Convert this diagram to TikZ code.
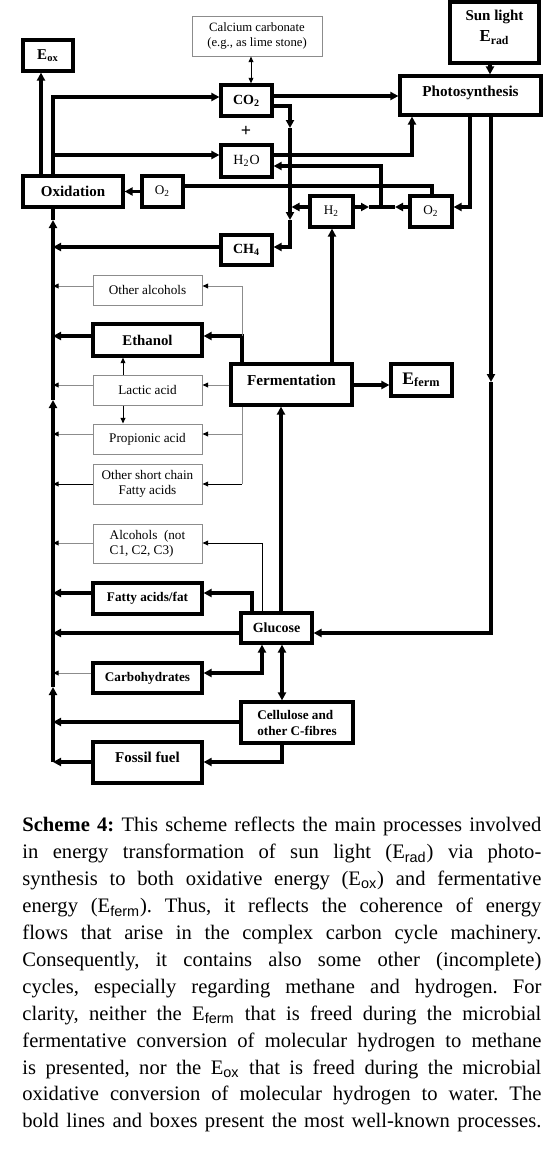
\documentclass[tikz,border=0pt]{standalone}
\usepackage{fontspec}
\setmainfont{Liberation Serif}
\newfontfamily\subsans{Liberation Sans}
\usetikzlibrary{arrows.meta}
\newcommand\myfs[2]{\fontsize{#1}{#2}\selectfont}
\tikzset{
  thickbox/.style={draw=black, line width=1.6pt, fill=white, inner sep=0pt},
  thinbox/.style={draw=black!45, line width=0.5pt, fill=white, inner sep=0pt},
  tkline/.style={line width=1.6pt},
  tk/.style={line width=1.6pt, -{Triangle[length=4pt,width=4pt]}},
  tkboth/.style={line width=1.6pt, {Triangle[length=4pt,width=4pt]}-{Triangle[length=4pt,width=4pt]}},
  tn/.style={line width=0.5pt, -{Triangle[length=2.8pt,width=2.4pt,color=black]}},
  tnboth/.style={line width=0.5pt, {Triangle[length=2.8pt,width=2.4pt]}-{Triangle[length=2.8pt,width=2.4pt]}},
  tngray/.style={tn, draw=black!45},
  lngray/.style={line width=0.5pt, draw=black!45},
  bigb/.style={font=\bfseries\myfs{7.6}{9}},
  midb/.style={font=\bfseries\myfs{6.6}{8}},
  sml/.style={font=\myfs{6.6}{7.6}},
}
\begin{document}
\begin{tikzpicture}[x=0.5pt,y=-0.5pt]
\useasboundingbox (0,0) rectangle (559,1157);

% ---- boxes ----
\node[thickbox, minimum width=25pt, minimum height=15.5pt, font=\bfseries\myfs{7.5}{9}] (eox) at (48,55.5) {E\textsubscript{ox}};
\node[thinbox, minimum width=65pt, minimum height=20pt, align=center, font=\myfs{6.35}{7.85}] (calc) at (257,36) {Calcium carbonate\\(e.g., as lime stone)};
\node[thickbox, minimum width=44.5pt, minimum height=30.5pt, align=center, font=\bfseries\myfs{7.5}{10.5}, text depth=6.5pt] (sun) at (494.5,32.5) {Sun light\\{\myfs{8.4}{10.5}E\textsubscript{rad}}};
\node[thickbox, minimum width=70.5pt, minimum height=19.5pt, bigb, text depth=4.5pt] (photo) at (470.5,95.5) {Photosynthesis};
\node[thickbox, minimum width=25.5pt, minimum height=15.5pt, font=\bfseries\myfs{7}{8}] (co2) at (246.5,100.5) {CO\textsubscript{2}};
\node[font=\bfseries\myfs{9}{10}] (plus) at (246,131) {+};
\node[thickbox, minimum width=25.5pt, minimum height=16pt, font=\myfs{7}{8}] (h2o) at (246.5,161) {H\textsubscript{2}O};
\node[thickbox, minimum width=25.5pt, minimum height=15pt, font=\bfseries\myfs{7}{8}] (ch4) at (246.5,250) {CH\textsubscript{4}};
\node[thickbox, minimum width=21.5pt, minimum height=15.5pt, font=\myfs{6.6}{8}] (h2) at (331.5,211.5) {H\textsubscript{2}};
\node[thickbox, minimum width=21pt, minimum height=15.5pt, font=\myfs{6.6}{8}] (o2r) at (431,211.5) {O\textsubscript{2}};
\node[thickbox, minimum width=20.5pt, minimum height=15.5pt, font=\myfs{6.6}{8}] (o2l) at (162.5,191.5) {O\textsubscript{2}};
\node[thickbox, minimum width=50pt, minimum height=15.5pt, font=\bfseries\myfs{7.5}{9}] (oxid) at (73,191.5) {Oxidation};
\node[thickbox, minimum width=60.5pt, minimum height=20.5pt, bigb, text depth=4.5pt] (ferm) at (291.5,384.5) {Fermentation};
\node[thickbox, minimum width=30.5pt, minimum height=16pt, font=\bfseries\myfs{8.8}{10}] (eferm) at (421.5,380) {E\textsubscript{ferm}};
\node[thinbox, minimum width=54.5pt, minimum height=15pt, sml] (otheralc) at (147.5,290) {Other alcohols};
\node[thickbox, minimum width=54.5pt, minimum height=16pt, font=\bfseries\myfs{7.4}{9}] (ethanol) at (147.5,340) {Ethanol};
\node[thinbox, minimum width=54.5pt, minimum height=15pt, sml] (lactic) at (147.5,390) {Lactic acid};
\node[thinbox, minimum width=54.5pt, minimum height=15pt, sml] (propionic) at (147.5,439) {Propionic acid};
\node[thinbox, minimum width=54.5pt, minimum height=20pt, sml, align=center] (othersc) at (147.5,484) {Other short chain\\Fatty acids};
\node[thinbox, minimum width=54.5pt, minimum height=19.5pt, sml, align=left] (alcnot) at (147.5,543.5) {Alcohols\ \ (not\\C1, C2, C3)};
\node[thickbox, minimum width=54.5pt, minimum height=15.5pt, midb] (fatty) at (147.5,598.5) {Fatty acids/fat};
\node[thickbox, minimum width=35.5pt, minimum height=15pt, font=\bfseries\myfs{7}{8}] (glucose) at (276.5,628) {Glucose};
\node[thickbox, minimum width=54.5pt, minimum height=15pt, midb] (carbo) at (147.5,678) {Carbohydrates};
\node[thickbox, minimum width=56pt, minimum height=20.5pt, midb, align=left] (cellu) at (297,722.5) {Cellulose and\\other C-fibres};
\node[thickbox, minimum width=54.5pt, minimum height=20.5pt, font=\bfseries\myfs{7.5}{9}, text depth=5.5pt] (fossil) at (147.5,762.5) {Fossil fuel};

% ---- main collecting line ----
\coordinate (busbot) at (53,762);
\coordinate (bus1) at (53,687);
\coordinate (bus2) at (53,400);
\coordinate (bus3) at (53,220);
\draw[tk] (busbot) -- (bus1);
\draw[tk] (bus1) -- (bus2);
\draw[tk] (bus2) -- (bus3);
\draw[tkline] (bus3) -- (oxid.south -| bus3);

\draw[tk] (fossil.west |- 0,762) -- (busbot |- 0,762);
\draw[tk] (cellu.west |- 0,722) -- (busbot |- 0,722);
\draw[tngray] (carbo.west |- 0,673) -- (busbot |- 0,673);
\draw[tk] (glucose.west |- 0,633) -- (busbot |- 0,633);
\draw[tk] (fatty.west |- 0,593) -- (busbot |- 0,593);
\draw[tngray] (alcnot.west |- 0,543) -- (busbot |- 0,543);
\draw[tn] (othersc.west |- 0,484) -- (busbot |- 0,484);
\draw[tngray] (propionic.west |- 0,434) -- (busbot |- 0,434);
\draw[tngray] (lactic.west |- 0,385) -- (busbot |- 0,385);
\draw[tk] (ethanol.west |- 0,336) -- (busbot |- 0,336);
\draw[tngray] (otheralc.west |- 0,286) -- (busbot |- 0,286);
\draw[tk] (ch4.west |- 0,247) -- (busbot |- 0,247);

% ---- oxidation outputs ----
\draw[tk] (oxid.north -| 41,0) -- (eox.south -| 41,0);
\draw[tk] (oxid.north -| busbot) -- (busbot |- 0,97) -- (co2.west |- 0,97);
\draw[tk] (busbot |- 0,155) -- (h2o.west |- 0,155);
\draw[tk] (o2l.west) -- (oxid.east);

% ---- CO2 / H2O / H2 / O2 ----
\draw[tnboth] (calc.south -| 251,0) -- (co2.north -| 251,0);
\draw[tk] (co2.east |- 0,96) -- (photo.west |- 0,96);
\coordinate (cva) at (290,106);
\coordinate (cvb) at (290,128);
\coordinate (cvc) at (290,220);
\coordinate (cvd) at (290,247);
\draw[tk] (co2.east |- cva) -- (cva) -- (cvb);
\draw[tk] (cvb) -- (cvc);
\draw[tk] (cvc) -- (cvd) -- (ch4.east |- cvd);
\draw[tk] (h2.west |- 0,207) -- (291.5,207);

\draw[tk] (h2o.east |- 0,155) -- (412,155) -- (photo.south -| 412,0);
\coordinate (jn) at (381,207);
\draw[tk] (h2.east |- jn) -- (369,207);
\draw[tkline] (369,207) -- (395,207);
\draw[tk] (o2r.west |- jn) -- (395,207);
\draw[tk] (jn) -- (381,166) -- (h2o.east |- 0,166);
\draw[tkline] (o2r.north -| 432,0) -- (432,186) -- (o2l.east |- 0,186);

% ---- photosynthesis ----
\draw[tk] (sun.south -| 490,0) -- (photo.north -| 490,0);
\draw[tk] (photo.south -| 470,0) -- (470,207) -- (o2r.east |- 0,207);
\coordinate (pg) at (491,382);
\draw[tk] (photo.south -| pg) -- (pg);
\draw[tk] (pg) -- (491,633) -- (glucose.east |- 0,633);

% ---- fermentation ----
\draw[tk] (glucose.north -| 281,0) -- (ferm.south -| 281,0);
\draw[tk] (ferm.east |- 0,385) -- (eferm.west |- 0,385);
\draw[tk] (ferm.north -| 332,0) -- (h2.south -| 332,0);
\coordinate (fe) at (242,336);
\draw[tk] (ferm.north -| fe) -- (fe) -- (ethanol.east |- fe);
\draw[tngray] (fe) -- (242,286) -- (otheralc.east |- 0,286);
\draw[tngray] (ferm.west |- 0,385) -- (lactic.east |- 0,385);
\draw[lngray] (ferm.south -| fe) -- (242,484);
\draw[tngray] (242,434) -- (propionic.east |- 0,434);
\draw[tn] (242,484) -- (othersc.east |- 0,484);
\draw[tn] (lactic.north -| 123,0) -- (ethanol.south -| 123,0);
\draw[tn] (lactic.south -| 123,0) -- (propionic.north -| 123,0);

% ---- glucose ----
\draw[tk] (glucose.north -| 252,0) -- (252,593) -- (fatty.east |- 0,593);
\draw[tn] (glucose.north -| 262,0) -- (262,543) -- (alcnot.east |- 0,543);
\draw[tkboth] (carbo.east |- 0,673) -- (262,673) -- (glucose.south -| 262,0);
\draw[tkboth] (glucose.south -| 282,0) -- (cellu.north -| 282,0);
\draw[tk] (cellu.south -| 282,0) -- (282,762) -- (fossil.east |- 0,762);

% ---- caption ----
\node[anchor=north west, inner sep=0pt, text width=259.5pt, align=justify, font=\myfs{10.3}{13.45}] (caption) at (22,817) {\frenchspacing
\textbf{Scheme 4:} This scheme reflects the main processes involved\linebreak
in energy transformation of sun light (E\textsubscript{\subsans rad}) via photo-\linebreak
synthesis to both oxidative energy (E\textsubscript{\subsans ox}) and fermentative\linebreak
energy (E\textsubscript{\subsans ferm}). Thus, it reflects the coherence of energy\linebreak
flows that arise in the complex carbon cycle machinery.\linebreak
Consequently, it contains also some other (incomplete)\linebreak
cycles, especially regarding methane and hydrogen. For\linebreak
clarity, neither the E\textsubscript{\subsans ferm} that is freed during the microbial\linebreak
fermentative conversion of molecular hydrogen to methane\linebreak
is presented, nor the E\textsubscript{\subsans ox} that is freed during the microbial\linebreak
oxidative conversion of molecular hydrogen to water. The\linebreak
\makebox[\linewidth][s]{bold lines and boxes present the most well-known processes.}};
\end{tikzpicture}
\end{document}
